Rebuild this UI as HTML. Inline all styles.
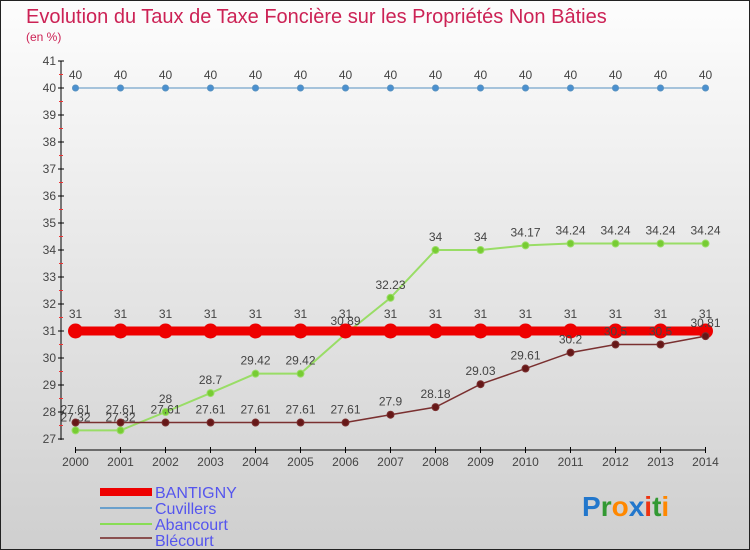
<!DOCTYPE html>
<html><head><meta charset="utf-8"><style>
body{margin:0}
#c{width:750px;height:550px;position:relative;overflow:hidden;font-family:"Liberation Sans",sans-serif;}
</style></head><body>
<div id="c">
<svg id="s" width="750" height="550" xmlns="http://www.w3.org/2000/svg">
<defs><linearGradient id="bg" x1="0" y1="0" x2="0" y2="1"><stop offset="0" stop-color="#fdfdfd"/><stop offset="1" stop-color="#cfcfcf"/></linearGradient></defs>
<rect x="0.5" y="0.5" width="749" height="549" fill="url(#bg)" stroke="#222"/>
<text x="26" y="23" font-size="20" fill="#cc2255">Evolution du Taux de Taxe Foncière sur les Propriétés Non Bâties</text>
<text x="26" y="41" font-size="12" fill="#cc2255">(en %)</text>
<g id="axes"></g><g id="series"></g>
<g>
<rect x="100" y="488" width="52" height="8" fill="#ee0000"/>
<text x="155" y="498" font-size="16" fill="#5555ee">BANTIGNY</text>
<line x1="100" y1="508" x2="152" y2="508" stroke="#6aa0cc" stroke-width="2"/>
<text x="155" y="514" font-size="16" fill="#5555ee">Cuvillers</text>
<line x1="100" y1="524" x2="152" y2="524" stroke="#88dd55" stroke-width="2"/>
<text x="155" y="530" font-size="16" fill="#5555ee">Abancourt</text>
<line x1="100" y1="538" x2="152" y2="538" stroke="#8a5050" stroke-width="2"/>
<text x="155" y="546" font-size="16" fill="#5555ee">Blécourt</text>
</g>
<g font-size="28" font-weight="bold">
<text x="582" y="516"><tspan fill="#2277cc">P</tspan><tspan fill="#339933">r</tspan><tspan fill="#ff8800">o</tspan><tspan fill="#2277cc">x</tspan><tspan fill="#ee3311">i</tspan><tspan fill="#339933">t</tspan><tspan fill="#ff8800">i</tspan></text>
</g>
</svg></div>
<script>
const years=[2000,2001,2002,2003,2004,2005,2006,2007,2008,2009,2010,2011,2012,2013,2014];
const bantigny=[31,31,31,31,31,31,31,31,31,31,31,31,31,31,31];
const cuvillers=[40,40,40,40,40,40,40,40,40,40,40,40,40,40,40];
const abancourt=[27.32,27.32,28,28.7,29.42,29.42,30.89,32.23,34,34,34.17,34.24,34.24,34.24,34.24];
const blecourt=[27.61,27.61,27.61,27.61,27.61,27.61,27.61,27.9,28.18,29.03,29.61,30.2,30.5,30.5,30.81];
const yTicks=[27,28,29,30,31,32,33,34,35,36,37,38,39,40,41];
const NS="http://www.w3.org/2000/svg";
const x=i=>75.5+i*45;
const y=v=>439-(v-27)*27;
function mk(p,tag,a){const e=document.createElementNS(NS,tag);for(const k in a)e.setAttribute(k,a[k]);p.appendChild(e);return e;}
const ax=document.getElementById('axes'),sg=document.getElementById('series');
let e=mk(ax,'line',{x1:61,y1:61,x2:61,y2:440,stroke:'#000'});


yTicks.forEach(t=>{mk(ax,'line',{x1:58,x2:64,y1:y(t),y2:y(t),stroke:'#000'});
 const tx=mk(ax,'text',{x:56,y:y(t)+4,'font-size':12,fill:'#444','text-anchor':'end'});tx.textContent=t;
 
 
 if(t<41){mk(ax,'line',{x1:59,x2:63,y1:y(t+0.5),y2:y(t+0.5),stroke:'#e33'});}});
e=mk(ax,'line',{x1:75,y1:450,x2:705,y2:450,stroke:'#000'});


years.forEach((yr,i)=>{mk(ax,'line',{x1:x(i),x2:x(i),y1:447,y2:453,stroke:'#000'});
 const tx=mk(ax,'text',{x:x(i),y:466,'font-size':12,fill:'#444','text-anchor':'middle'});tx.textContent=yr;
 
 });
function series(name,vals,col,dot,lw,r,lab){
 const g=mk(sg,'g',{});
 
 
 mk(g,'polyline',{points:vals.map((v,i)=>x(i)+','+y(v)).join(' '),fill:'none',stroke:col,'stroke-width':lw});
 vals.forEach((v,i)=>{const c=mk(g,'circle',{cx:x(i),cy:y(v),r:r,fill:dot,stroke:col,'stroke-width':1});
  
  
  const t=mk(g,'text',{x:x(i),y:y(v)-lab,'font-size':12,fill:'#444','text-anchor':'middle'});t.textContent=v;
  
  });
}
series('cuvillers',cuvillers,'#5590c0','#4a90d0',1,3,9);
series('abancourt',abancourt,'#99dd66','#77cc33',2,3.5,9);
series('bantigny',bantigny,'#ee0000','#ee0000',9,7,13);
series('blecourt',blecourt,'#7a3030','#661818',1.5,3.5,9);
</script>
</body></html>
